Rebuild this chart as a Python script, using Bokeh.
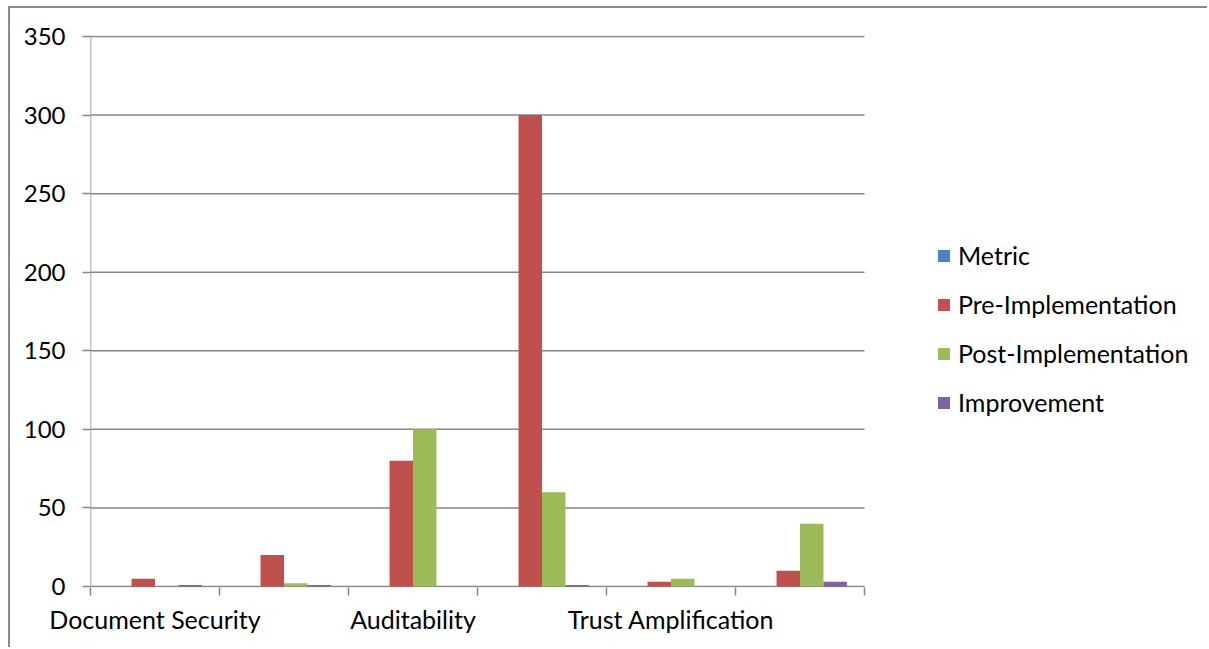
from bokeh.plotting import figure
from bokeh.models import Range1d, FixedTicker, Legend, LegendItem, ColumnDataSource
from bokeh.embed import file_html
from bokeh.resources import INLINE

# ---- data ----
tick_labels = ["Document Security", "", "Auditability", "", "Trust Amplification", ""]
series = ["Metric", "Pre-Implementation", "Post-Implementation", "Improvement"]
metric = [0, 0, 0, 0, 0, 0]
pre_impl = [5, 20, 80, 300, 3, 10]
post_impl = [0, 2, 100, 60, 5, 40]
improvement = [1, 1, 0, 1, 0, 3]
y_ticks = [0, 50, 100, 150, 200, 250, 300, 350]
colors = ["#4F81BD", "#C0504D", "#9BBB59", "#8064A2"]

FONT = "Lato"
FS = "25px"
FSY = "24px"
GRID = "#868686"

values = [metric, pre_impl, post_impl, improvement]
n_cat = len(tick_labels)
n_ser = len(series)
gap = 1.5
slot = 1.0 / (n_ser + gap)

W, H = 1199, 641
LEFT, TOP, BOTTOM = 80, 27, 62
CHART_W = 774          # width of the category area in pixels
CHART_H = 550          # height of the value area in pixels
frame_w = W - LEFT     # frame extends to the right edge so the legend is not clipped
x_end = n_cat * frame_w / CHART_W
y_max = y_ticks[-1]
pad = y_max / CHART_H  # one pixel of padding so edge gridlines are not clipped

p = figure(width=W, height=H, x_range=Range1d(0, x_end), y_range=Range1d(-pad, y_max + pad),
           output_backend="svg", toolbar_location=None,
           min_border_left=LEFT, min_border_right=0, min_border_top=TOP, min_border_bottom=BOTTOM)
p.styles = {"border-top": "2px solid #8c8c8c", "border-left": "2px solid #8c8c8c",
            "margin-left": "8px", "margin-top": "6px"}
p.outline_line_color = None
p.background_fill_color = "white"
p.border_fill_color = "white"

# horizontal gridlines limited to the category area
p.xgrid.visible = False
p.ygrid.visible = False
grid_src = ColumnDataSource(dict(x0=[0] * len(y_ticks), x1=[n_cat] * len(y_ticks), y=y_ticks))
p.segment(x0="x0", x1="x1", y0="y", y1="y", source=grid_src, line_color=GRID, line_width=1.5)

items = []
for k, (name, vals, col) in enumerate(zip(series, values, colors)):
    xs = [i + (gap / 2 + 0.5 + k) * slot for i in range(n_cat)]
    src = ColumnDataSource(dict(x=xs, top=vals))
    r = p.vbar(x="x", top="top", bottom=0, width=slot, source=src,
               fill_color=col, line_color=None)
    items.append(LegendItem(label=name, renderers=[r]))

# y axis
p.yaxis.ticker = FixedTicker(ticks=y_ticks)
p.yaxis.axis_line_color = None
p.yaxis.major_tick_line_color = GRID
p.yaxis.major_tick_line_width = 1.5
p.yaxis.major_tick_out = 8
p.yaxis.major_tick_in = 0
p.yaxis.minor_tick_line_color = None
p.yaxis.major_label_text_font = FONT
p.yaxis.major_label_text_font_size = FSY
p.yaxis.major_label_text_color = "black"
p.yaxis.major_label_standoff = 17
# vertical axis line over the value range only
p.segment(x0=[0], x1=[0], y0=[y_ticks[0]], y1=[y_max], line_color=GRID, line_width=1.5)

# x axis (line drawn by the 0 gridline)
centers = [i + 0.5 for i in range(n_cat)]
p.xaxis.ticker = FixedTicker(ticks=centers, minor_ticks=list(range(n_cat + 1)))
p.xaxis.major_label_overrides = {c: lab for c, lab in zip(centers, tick_labels)}
p.xaxis.axis_line_color = None
p.xaxis.major_tick_line_color = None
p.xaxis.major_tick_out = 0
p.xaxis.major_tick_in = 0
p.xaxis.minor_tick_line_color = GRID
p.xaxis.minor_tick_line_width = 1.5
p.xaxis.minor_tick_out = 8
p.xaxis.minor_tick_in = 0
p.xaxis.major_label_text_font = FONT
p.xaxis.major_label_text_font_size = FS
p.xaxis.major_label_text_color = "black"
p.xaxis.major_label_standoff = 8

legend = Legend(items=items, location=(CHART_W + 72, 170), orientation="vertical",
                label_text_font=FONT, label_text_font_size=FS, label_text_color="black",
                glyph_width=15, glyph_height=15, label_standoff=7, label_height=24,
                spacing=19, padding=0, margin=0, border_line_color=None,
                background_fill_alpha=0)
p.add_layout(legend)

open("out.html", "w").write(file_html(p, INLINE))
